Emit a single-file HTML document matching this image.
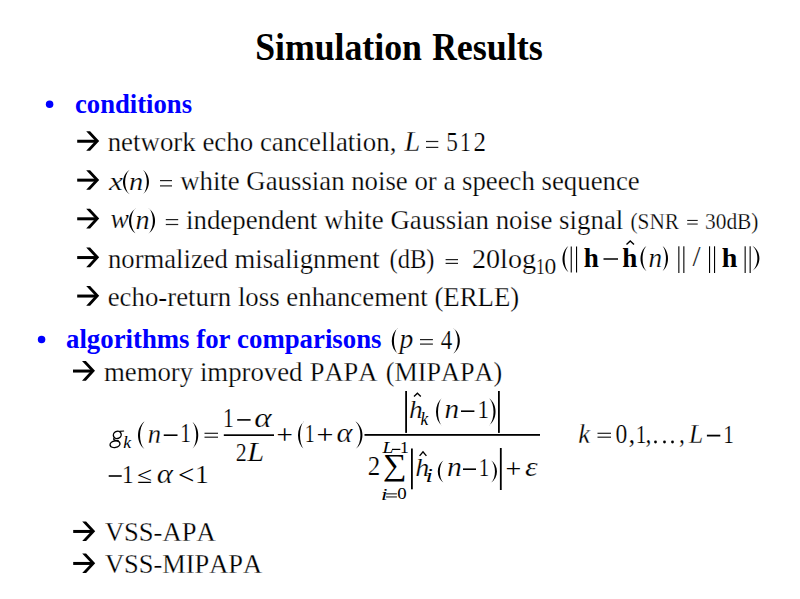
<!DOCTYPE html>
<html><head><meta charset="utf-8"><style>
html,body{margin:0;padding:0;background:#fff;width:800px;height:599px;overflow:hidden}
svg{display:block}
text{font-family:"Liberation Serif",serif;white-space:pre;font-kerning:none;stroke:#fff;paint-order:normal}
.nos{stroke:none}
</style></head><body>
<svg width="800" height="599" viewBox="0 0 800 599">
<text transform="matrix(0.35617,0,0,0.39740,255.30,59.91)" font-size="100" stroke-width="0.00" font-weight="bold">S</text>
<text x="275.01" y="60" font-size="37.5" stroke-width="0" font-weight="bold" textLength="146.93" lengthAdjust="spacingAndGlyphs">imulation</text>
<text transform="matrix(0.34180,0,0,0.39555,432.32,59.90)" font-size="100" stroke-width="0.00" font-weight="bold">R</text>
<text x="456.77" y="60" font-size="37.5" stroke-width="0" font-weight="bold" textLength="86.11" lengthAdjust="spacingAndGlyphs">esults</text>
<circle cx="49.6" cy="104.2" r="3.75" fill="#0000ff"/>
<text x="75" y="112.6" font-size="26.67" stroke-width="0" font-weight="bold" fill="#0000ff">conditions</text>
<g transform="translate(77.20,141.05)"><rect x="0" y="-1.3" width="19" height="3.0"/><polygon points="9.0,-9.8 12.9,-9.8 22.0,0 12.9,9.8 9.0,9.8 18.1,0"/></g>
<text x="107.7" y="150.9" font-size="26.67" stroke-width="0.25" textLength="288.7" lengthAdjust="spacingAndGlyphs">network echo cancellation,</text>
<text transform="matrix(0.28242,0,0,0.28712,404.53,150.90)" font-size="100" stroke-width="0.88" font-style="italic">L</text>
<rect x="426.00" y="140.90" width="12.30" height="1.20" fill="#222"/>
<rect x="426.00" y="146.80" width="12.30" height="1.20" fill="#222"/>
<text transform="matrix(0.23335,0,0,0.26484,446.34,150.64)" font-size="100" stroke-width="0.80">5</text>
<text transform="matrix(0.21588,0,0,0.26660,459.90,150.90)" font-size="100" stroke-width="0.83">1</text>
<text transform="matrix(0.24945,0,0,0.26582,473.60,150.90)" font-size="100" stroke-width="0.78">2</text>
<g transform="translate(77.20,179.95)"><rect x="0" y="-1.3" width="19" height="3.0"/><polygon points="9.0,-9.8 12.9,-9.8 22.0,0 12.9,9.8 9.0,9.8 18.1,0"/></g>
<text transform="matrix(0.31199,0,0,0.26145,108.88,189.50)" font-size="100" stroke-width="0.88" font-style="italic">x</text>
<path d="M130.00,169.50 C120.67,175.00 120.67,189.00 130.00,194.50 L129.40,194.10 C123.73,189.00 123.73,175.00 129.40,169.90 Z"/>
<text transform="matrix(0.28379,0,0,0.25467,128.99,189.50)" font-size="100" stroke-width="0.93" font-style="italic">n</text>
<path d="M142.50,169.50 C151.17,175.00 151.17,189.00 142.50,194.50 L143.10,194.10 C148.10,189.00 148.10,175.00 143.10,169.90 Z"/>
<rect x="160.00" y="180.00" width="12.00" height="1.20" fill="#222"/>
<rect x="160.00" y="185.30" width="12.00" height="1.20" fill="#222"/>
<text x="180.2" y="189.8" font-size="26.67" stroke-width="0.25" textLength="459.5" lengthAdjust="spacingAndGlyphs">white Gaussian noise or a speech sequence</text>
<g transform="translate(77.20,218.60)"><rect x="0" y="-1.3" width="19" height="3.0"/><polygon points="9.0,-9.8 12.9,-9.8 22.0,0 12.9,9.8 9.0,9.8 18.1,0"/></g>
<text transform="matrix(0.27527,0,0,0.26453,110.54,228.24)" font-size="100" stroke-width="0.93" font-style="italic">w</text>
<path d="M136.00,208.20 C126.67,213.79 126.67,228.01 136.00,233.60 L135.40,233.20 C129.73,228.01 129.73,213.79 135.40,208.60 Z"/>
<text transform="matrix(0.28142,0,0,0.26316,135.60,228.50)" font-size="100" stroke-width="0.92" font-style="italic">n</text>
<path d="M148.40,208.20 C157.33,213.79 157.33,228.01 148.40,233.60 L149.00,233.20 C154.27,228.01 154.27,213.79 149.00,208.60 Z"/>
<rect x="165.80" y="219.00" width="12.40" height="1.20" fill="#222"/>
<rect x="165.80" y="223.90" width="12.40" height="1.20" fill="#222"/>
<text x="186" y="228.9" font-size="26.67" stroke-width="0.25" textLength="437.3" lengthAdjust="spacingAndGlyphs">independent white Gaussian noise signal</text>
<text x="630.5" y="228.6" font-size="22.2" stroke-width="0.25" textLength="48.5" lengthAdjust="spacingAndGlyphs">(SNR</text>
<rect x="687.20" y="219.90" width="10.50" height="1.10" fill="#222"/>
<rect x="687.20" y="223.50" width="10.50" height="1.10" fill="#222"/>
<text x="705" y="228.6" font-size="22.2" stroke-width="0.25" textLength="53.5" lengthAdjust="spacingAndGlyphs">30dB)</text>
<g transform="translate(77.20,257.35)"><rect x="0" y="-1.3" width="19" height="3.0"/><polygon points="9.0,-9.8 12.9,-9.8 22.0,0 12.9,9.8 9.0,9.8 18.1,0"/></g>
<text x="108" y="267.7" font-size="26.67" stroke-width="0.25">normalized misalignment</text>
<text x="389.5" y="267.7" font-size="26.67" stroke-width="0.25" textLength="45" lengthAdjust="spacingAndGlyphs">(dB)</text>
<rect x="445.60" y="259.00" width="12.40" height="1.20" fill="#222"/>
<rect x="445.60" y="262.80" width="12.40" height="1.20" fill="#222"/>
<text x="472" y="267.5" font-size="26.67" stroke-width="0.25" textLength="64" lengthAdjust="spacingAndGlyphs">20log</text>
<text transform="matrix(0.17611,0,0,0.22873,536.05,273.90)" font-size="100" stroke-width="1.00">1</text>
<text transform="matrix(0.23594,0,0,0.23859,544.60,273.97)" font-size="100" stroke-width="0.84">0</text>
<path d="M569.00,245.50 C560.33,251.44 560.33,266.56 569.00,272.50 L568.40,272.10 C563.27,266.56 563.27,251.44 568.40,245.90 Z"/>
<rect x="570.70" y="246.50" width="1.10" height="26.00"/>
<rect x="576.00" y="246.50" width="1.10" height="26.00"/>
<text transform="matrix(0.27126,0,0,0.26670,583.82,266.80)" font-size="100" stroke-width="0.00" font-weight="bold">h</text>
<rect x="603.50" y="258.25" width="14.50" height="1.50"/>
<text transform="matrix(0.27126,0,0,0.26670,622.32,266.80)" font-size="100" stroke-width="0.00" font-weight="bold">h</text>
<polyline points="626.50,244.50 630.25,241.00 634.00,244.50" fill="none" stroke="#000" stroke-width="1.4"/>
<path d="M647.00,245.50 C638.33,251.22 638.33,265.78 647.00,271.50 L646.40,271.10 C641.27,265.78 641.27,251.22 646.40,245.90 Z"/>
<text transform="matrix(0.27196,0,0,0.26670,648.53,266.80)" font-size="100" stroke-width="0.93" font-style="italic">n</text>
<path d="M662.00,245.50 C670.00,251.22 670.00,265.78 662.00,271.50 L662.60,271.10 C667.07,265.78 667.07,251.22 662.60,245.90 Z"/>
<rect x="678.30" y="246.30" width="1.10" height="26.70"/>
<rect x="683.30" y="246.30" width="1.10" height="26.70"/>
<text transform="matrix(0.29154,0,0,0.28403,692.50,265.72)" font-size="100" stroke-width="0.70">/</text>
<rect x="709.00" y="246.30" width="1.10" height="26.70"/>
<rect x="714.00" y="246.30" width="1.10" height="26.70"/>
<text transform="matrix(0.28095,0,0,0.26670,721.80,267.00)" font-size="100" stroke-width="0.00" font-weight="bold">h</text>
<rect x="744.60" y="246.30" width="1.10" height="26.70"/>
<rect x="749.60" y="246.30" width="1.10" height="26.70"/>
<path d="M752.00,245.60 C761.87,251.19 761.87,265.41 752.00,271.00 L752.60,270.60 C758.93,265.41 758.93,251.19 752.60,246.00 Z"/>
<g transform="translate(77.20,295.85)"><rect x="0" y="-1.3" width="19" height="3.0"/><polygon points="9.0,-9.8 12.9,-9.8 22.0,0 12.9,9.8 9.0,9.8 18.1,0"/></g>
<text x="107.7" y="305.8" font-size="26.67" stroke-width="0.25" textLength="411.6" lengthAdjust="spacingAndGlyphs">echo-return loss enhancement (ERLE)</text>
<circle cx="41.55" cy="339.45" r="3.75" fill="#0000ff"/>
<text x="66" y="347.5" font-size="26.67" stroke-width="0" font-weight="bold" fill="#0000ff" textLength="315.5" lengthAdjust="spacingAndGlyphs">algorithms for comparisons</text>
<path d="M398.00,327.90 C389.73,333.58 389.73,348.02 398.00,353.70 L397.40,353.30 C392.80,348.02 392.80,333.58 397.40,328.30 Z"/>
<text transform="matrix(0.27635,0,0,0.26670,399.62,348.00)" font-size="100" stroke-width="0.92" font-style="italic">p</text>
<rect x="420.00" y="339.00" width="12.90" height="1.20" fill="#222"/>
<rect x="420.00" y="343.50" width="12.90" height="1.20" fill="#222"/>
<text transform="matrix(0.23018,0,0,0.26670,440.85,348.50)" font-size="100" stroke-width="0.81">4</text>
<path d="M453.00,327.90 C462.20,333.58 462.20,348.02 453.00,353.70 L453.60,353.30 C459.13,348.02 459.13,333.58 453.60,328.30 Z"/>
<g transform="translate(73.00,370.85)"><rect x="0" y="-1.3" width="19" height="3.0"/><polygon points="9.0,-9.8 12.9,-9.8 22.0,0 12.9,9.8 9.0,9.8 18.1,0"/></g>
<text x="103.94" y="380.5" font-size="26.67" stroke-width="0.25" textLength="198.59" lengthAdjust="spacingAndGlyphs">memory improved</text>
<text transform="matrix(1,0,0,1.06,309.74,380.5)" x="0" y="0" font-size="26.67" stroke-width="0.25" textLength="67.66" lengthAdjust="spacingAndGlyphs">PAPA</text>
<text transform="matrix(1,0,0,1.06,385.85,380.5)" x="0" y="0" font-size="26.67" stroke-width="0.25" textLength="116.3" lengthAdjust="spacingAndGlyphs">(MIPAPA)</text>
<g fill="none" stroke="#000" stroke-width="1.4"><ellipse cx="117.3" cy="434.9" rx="4.0" ry="3.5" transform="rotate(-25 117.3 434.9)"/><path d="M119.5,431.4 L124.1,431.0" stroke-width="1.2"/><path d="M114.2,437.9 Q112.6,439.5 115.6,440.3 L118.8,441.0" stroke-width="1.3"/><ellipse cx="115.0" cy="444.2" rx="5.0" ry="3.3" transform="rotate(-12 115.0 444.2)"/></g>
<text transform="matrix(0.17687,0,0,0.17439,123.29,448.10)" font-size="100" stroke-width="0.00" font-style="italic">k</text>
<path d="M145.00,421.00 C135.67,427.25 135.67,443.15 145.00,449.40 L144.40,449.00 C138.60,443.15 138.60,427.25 144.40,421.40 Z"/>
<text transform="matrix(0.26605,0,0,0.26670,147.80,442.50)" font-size="100" stroke-width="0.94" font-style="italic">n</text>
<rect x="163.75" y="434.40" width="13.75" height="1.60"/>
<text transform="matrix(0.21304,0,0,0.27721,180.13,442.30)" font-size="100" stroke-width="0.82">1</text>
<path d="M191.90,421.50 C200.43,427.55 200.43,442.95 191.90,449.00 L192.50,448.60 C197.50,442.95 197.50,427.55 192.50,421.90 Z"/>
<rect x="204.50" y="432.70" width="13.50" height="1.20" fill="#222"/>
<rect x="204.50" y="436.60" width="13.50" height="1.20" fill="#222"/>
<rect x="223.80" y="434.30" width="50.20" height="1.70"/>
<text transform="matrix(0.21588,0,0,0.26660,223.00,426.90)" font-size="100" stroke-width="0.83">1</text>
<rect x="237.20" y="419.10" width="13.40" height="1.60"/>
<text transform="matrix(0.33026,0,0,0.26670,254.32,426.90)" font-size="100" stroke-width="0.84" font-style="italic">α</text>
<text transform="matrix(0.21952,0,0,0.24618,235.64,461.30)" font-size="100" stroke-width="0.86">2</text>
<text transform="matrix(0.30547,0,0,0.26670,247.36,461.30)" font-size="100" stroke-width="0.88" font-style="italic">L</text>
<text transform="matrix(0.29012,0,0,0.26405,276.56,444.12)" font-size="100" stroke-width="0.00">+</text>
<path d="M304.00,421.40 C296.00,427.47 296.00,442.93 304.00,449.00 L303.40,448.60 C298.93,442.93 298.93,427.47 303.40,421.80 Z"/>
<text transform="matrix(0.19883,0,0,0.25903,304.85,442.00)" font-size="100" stroke-width="0.88">1</text>
<text transform="matrix(0.30086,0,0,0.26405,316.50,444.12)" font-size="100" stroke-width="0.00">+</text>
<text transform="matrix(0.30290,0,0,0.26670,336.60,442.20)" font-size="100" stroke-width="0.88" font-style="italic">α</text>
<path d="M355.00,421.00 C365.00,427.25 365.00,443.15 355.00,449.40 L355.60,449.00 C362.07,443.15 362.07,427.25 355.60,421.40 Z"/>
<rect x="364.50" y="434.00" width="175.50" height="1.80"/>
<rect x="405.20" y="391.00" width="1.80" height="41.90"/>
<text transform="matrix(0.27465,0,0,0.24213,409.01,418.00)" font-size="100" stroke-width="0.97" font-style="italic">h</text>
<polyline points="414.00,396.40 417.40,393.20 420.80,396.40" fill="none" stroke="#000" stroke-width="1.4"/>
<text transform="matrix(0.17222,0,0,0.18015,420.50,424.50)" font-size="100" stroke-width="0.00" font-style="italic">k</text>
<path d="M442.00,398.00 C434.00,404.09 434.00,419.61 442.00,425.70 L441.40,425.30 C436.93,419.61 436.93,404.09 441.40,398.40 Z"/>
<text transform="matrix(0.29325,0,0,0.26670,444.55,418.00)" font-size="100" stroke-width="0.89" font-style="italic">n</text>
<rect x="461.00" y="410.40" width="13.40" height="1.60"/>
<text transform="matrix(0.23008,0,0,0.25751,477.38,418.00)" font-size="100" stroke-width="0.82">1</text>
<path d="M488.75,398.00 C497.88,404.07 497.88,419.53 488.75,425.60 L489.35,425.20 C494.95,419.53 494.95,404.07 489.35,398.40 Z"/>
<rect x="498.00" y="391.00" width="1.80" height="41.90"/>
<text transform="matrix(0.24945,0,0,0.26582,367.70,475.20)" font-size="100" stroke-width="0.78">2</text>
<text transform="matrix(0.33270,0,0,0.30080,382.91,475.00)" font-size="100" stroke-width="0.00">∑</text>
<text transform="matrix(0.19596,0,0,0.17410,382.43,452.50)" font-size="100" stroke-width="0.00" font-style="italic">L</text>
<rect x="392.00" y="448.80" width="8.30" height="1.20"/>
<text transform="matrix(0.17611,0,0,0.17269,399.95,452.50)" font-size="100" stroke-width="0.00">1</text>
<text transform="matrix(0.23450,0,0,0.16312,380.89,499.60)" font-size="100" stroke-width="0.00" font-style="italic">i</text>
<rect x="386.10" y="493.30" width="10.80" height="1.10" fill="#222"/>
<rect x="386.10" y="496.40" width="10.80" height="1.10" fill="#222"/>
<text transform="matrix(0.18876,0,0,0.16005,397.28,499.44)" font-size="100" stroke-width="0.00">0</text>
<rect x="411.00" y="448.50" width="1.80" height="40.80"/>
<text transform="matrix(0.28175,0,0,0.24501,415.18,475.70)" font-size="100" stroke-width="0.95" font-style="italic">h</text>
<polyline points="419.60,455.90 423.00,451.90 426.40,455.90" fill="none" stroke="#000" stroke-width="1.4"/>
<text transform="matrix(0.26577,0,0,0.18879,425.52,482.00)" font-size="100" stroke-width="0.00" font-style="italic">i</text>
<path d="M444.00,460.00 C435.73,465.06 435.73,477.94 444.00,483.00 L443.40,482.60 C438.67,477.94 438.67,465.06 443.40,460.40 Z"/>
<text transform="matrix(0.29798,0,0,0.26670,446.94,476.00)" font-size="100" stroke-width="0.89" font-style="italic">n</text>
<rect x="463.00" y="468.40" width="13.00" height="1.60"/>
<text transform="matrix(0.21020,0,0,0.26054,478.75,476.00)" font-size="100" stroke-width="0.85">1</text>
<path d="M490.60,460.00 C499.13,465.06 499.13,477.94 490.60,483.00 L491.20,482.60 C496.20,477.94 496.20,465.06 491.20,460.40 Z"/>
<rect x="499.90" y="448.00" width="1.80" height="42.00"/>
<text transform="matrix(0.27937,0,0,0.26620,505.61,477.64)" font-size="100" stroke-width="0.00">+</text>
<text transform="matrix(0.32025,0,0,0.27549,524.91,475.98)" font-size="100" stroke-width="0.84" font-style="italic">ε</text>
<text transform="matrix(0.26764,0,0,0.26670,578.23,442.50)" font-size="100" stroke-width="0.94" font-style="italic">k</text>
<rect x="597.50" y="432.70" width="13.50" height="1.20" fill="#222"/>
<rect x="597.50" y="436.60" width="13.50" height="1.20" fill="#222"/>
<text transform="matrix(0.23594,0,0,0.26674,615.60,442.74)" font-size="100" stroke-width="0.80">0</text>
<text transform="matrix(0.26859,0,0,0.26670,628.48,442.50)" font-size="100" stroke-width="0.75">,</text>
<text transform="matrix(0.21304,0,0,0.25751,635.63,442.50)" font-size="100" stroke-width="0.85">1</text>
<text transform="matrix(0.23502,0,0,0.26670,645.60,442.50)" font-size="100" stroke-width="0.80">,</text>
<circle cx="655.5" cy="442" r="1.4"/>
<circle cx="664.5" cy="442" r="1.4"/>
<circle cx="672.5" cy="442" r="1.4"/>
<text transform="matrix(0.23502,0,0,0.26670,679.10,442.50)" font-size="100" stroke-width="0.80">,</text>
<text transform="matrix(0.25456,0,0,0.26670,689.05,442.50)" font-size="100" stroke-width="0.96" font-style="italic">L</text>
<rect x="706.90" y="434.70" width="13.40" height="1.80"/>
<text transform="matrix(0.21304,0,0,0.25751,723.13,442.50)" font-size="100" stroke-width="0.85">1</text>
<rect x="108.70" y="475.20" width="13.00" height="1.60"/>
<text transform="matrix(0.23292,0,0,0.26054,121.95,482.70)" font-size="100" stroke-width="0.81">1</text>
<text transform="matrix(0.27507,0,0,0.23550,137.06,482.70)" font-size="100" stroke-width="0.00">≤</text>
<text transform="matrix(0.30876,0,0,0.26670,156.78,482.70)" font-size="100" stroke-width="0.87" font-style="italic">α</text>
<text transform="matrix(0.29012,0,0,0.26533,178.06,484.41)" font-size="100" stroke-width="0.00"><</text>
<text transform="matrix(0.27553,0,0,0.26054,195.08,482.70)" font-size="100" stroke-width="0.75">1</text>
<g transform="translate(73.20,531.25)"><rect x="0" y="-1.3" width="19" height="3.0"/><polygon points="9.0,-9.8 12.9,-9.8 22.0,0 12.9,9.8 9.0,9.8 18.1,0"/></g>
<text transform="matrix(1,0,0,1.06,104.9,541)" x="0" y="0" font-size="26.67" stroke-width="0.25" textLength="110.69" lengthAdjust="spacingAndGlyphs">VSS-APA</text>
<g transform="translate(73.20,563.25)"><rect x="0" y="-1.3" width="19" height="3.0"/><polygon points="9.0,-9.8 12.9,-9.8 22.0,0 12.9,9.8 9.0,9.8 18.1,0"/></g>
<text transform="matrix(1,0,0,1.06,104.9,572.8)" x="0" y="0" font-size="26.67" stroke-width="0.25" textLength="157.29" lengthAdjust="spacingAndGlyphs">VSS-MIPAPA</text>
</svg></body></html>
